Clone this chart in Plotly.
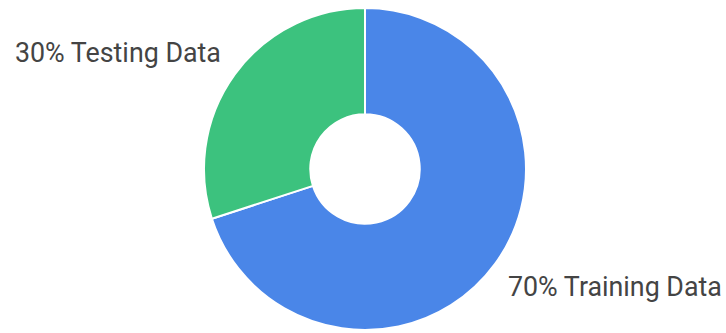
import plotly.graph_objects as go

# Data split shown in the donut
labels = ["Training Data", "Testing Data"]
values = [70, 30]
colors = ["#4a86e8", "#3cc27e"]

W, H = 726, 333
total = sum(values)
texts = [f"{round(v / total * 100)}% {lab}" for lab, v in zip(labels, values)]

# Donut geometry in pixels
cx, cy, r = 365, 169, 161

fig = go.Figure(
    go.Pie(
        labels=labels,
        values=values,
        sort=False,
        direction="clockwise",
        rotation=0,
        hole=0.34,
        marker=dict(colors=colors, line=dict(color="white", width=2)),
        textinfo="none",
        hoverinfo="label+percent",
        domain=dict(
            x=[(cx - r) / W, (cx + r) / W],
            y=[(H - (cy + r)) / H, (H - (cy - r)) / H],
        ),
        showlegend=False,
    )
)

label_font = dict(family="Roboto, Arial, sans-serif", size=26.8, color="#444444")
# Outside labels: testing (upper left), training (lower right)
positions = {"Testing Data": (13, 53), "Training Data": (506, 287)}
for lab, txt in zip(labels, texts):
    px, py = positions[lab]
    fig.add_annotation(
        x=px / W, y=1 - py / H, xref="paper", yref="paper",
        xanchor="left", yanchor="middle", text=txt, showarrow=False,
        font=label_font,
    )

fig.update_layout(
    width=W, height=H,
    margin=dict(l=0, r=0, t=0, b=0),
    paper_bgcolor="white", plot_bgcolor="white",
)

fig.write_html("out.html")
